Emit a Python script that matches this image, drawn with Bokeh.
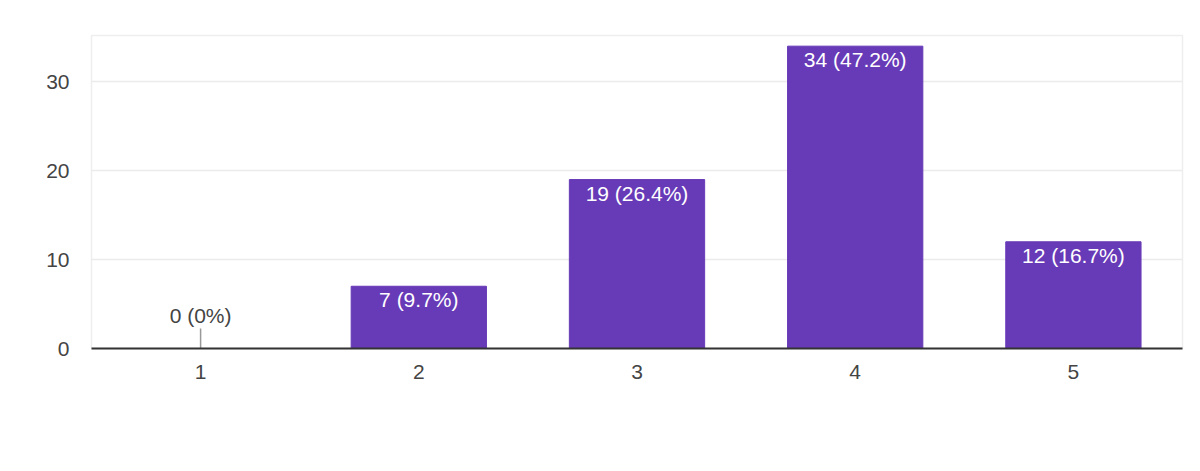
from bokeh.plotting import figure
from bokeh.models import ColumnDataSource, Range1d, FactorRange
from bokeh.core.properties import value
from bokeh.embed import file_html
from bokeh.resources import INLINE
import math

categories = ["1", "2", "3", "4", "5"]
counts = [0, 7, 19, 34, 12]
percents = ["0%", "9.7%", "26.4%", "47.2%", "16.7%"]
y_ticks = [0, 10, 20, 30]

labels = [f"{c} ({p})" for c, p in zip(counts, percents)]

FONT = "Liberation Sans"

p = figure(width=1192, height=455, output_backend="svg", toolbar_location=None,
           x_range=FactorRange(*categories, range_padding=0),
           y_range=Range1d(0, 35.2),
           min_border_left=91, min_border_right=10, min_border_top=35, min_border_bottom=107)
p.x_range.factor_padding = 0
p.x_range.range_padding = 0

p.outline_line_color = "#eeeeee"
p.outline_line_width = 1.5
p.background_fill_color = "white"
p.border_fill_color = "white"

p.xgrid.grid_line_color = None
p.ygrid.grid_line_color = "#ebebeb"
p.ygrid.grid_line_width = 1.5
p.yaxis.ticker = y_ticks

p.yaxis.axis_line_color = None
p.yaxis.major_tick_line_color = None
p.yaxis.minor_tick_line_color = None
p.yaxis.major_label_standoff = 16
p.yaxis.major_label_text_font = FONT
p.yaxis.major_label_text_font_size = "21px"
p.yaxis.major_label_text_color = "#444444"

p.xaxis.axis_line_color = "#333333"
p.xaxis.axis_line_width = 2
p.xaxis.major_tick_line_color = None
p.xaxis.minor_tick_line_color = None
p.xaxis.major_label_standoff = 10
p.xaxis.major_label_text_font = FONT
p.xaxis.major_label_text_font_size = "21px"
p.xaxis.major_label_text_color = "#444444"

nz = [i for i, c in enumerate(counts) if c > 0]
z = [i for i, c in enumerate(counts) if c == 0]

src_nz = ColumnDataSource(dict(x=[categories[i] for i in nz], top=[counts[i] for i in nz],
                               label=[labels[i] for i in nz]))
src_z = ColumnDataSource(dict(x=[categories[i] for i in z], y=[counts[i] for i in z],
                              label=[labels[i] for i in z]))

p.vbar(x="x", top="top", bottom=0, width=0.62, source=src_nz,
       fill_color="#673ab7", line_color="#673ab7")

p.text(x="x", y="top", text="label", source=src_nz, text_align="center",
       text_baseline="top", y_offset=2, text_color="white",
       text_font=value(FONT), text_font_size="21px")

p.ray(x="x", y="y", length=20, length_units="screen", angle=math.pi / 2,
      source=src_z, line_color="#999999", line_width=1.5)
p.text(x="x", y="y", text="label", source=src_z, text_align="center",
       text_baseline="bottom", y_offset=-22, text_color="#444444",
       text_font=value(FONT), text_font_size="21px")

open("out.html", "w").write(file_html(p, INLINE))
